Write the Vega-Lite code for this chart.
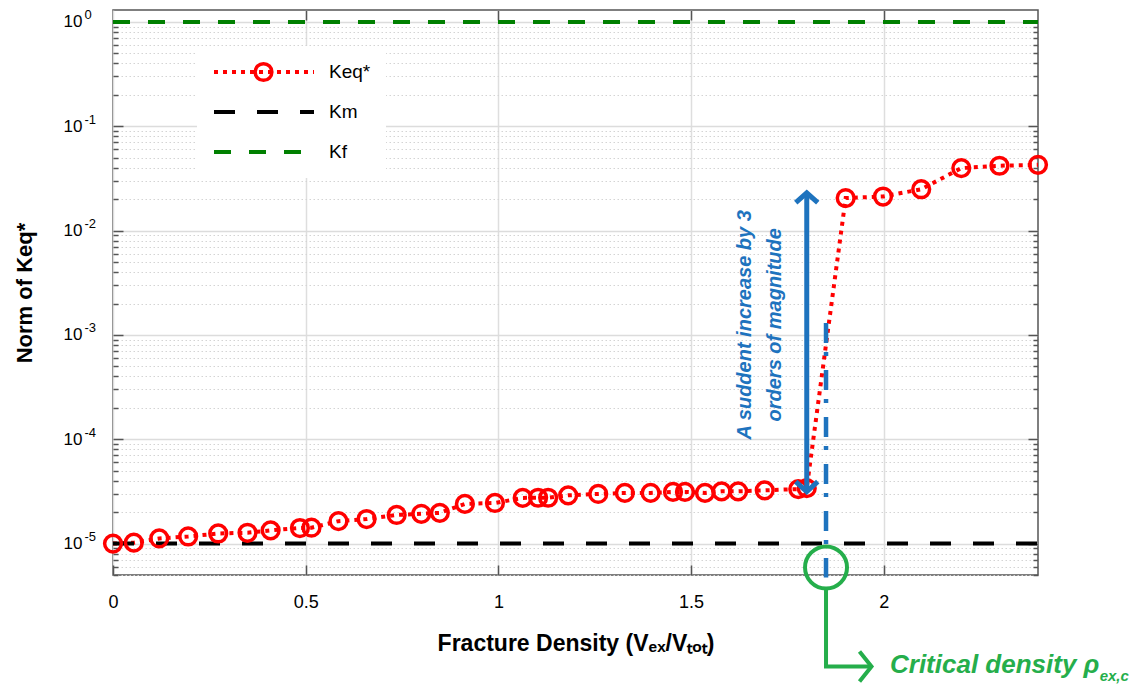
{
  "$schema": "https://vega.github.io/schema/vega-lite/v6.json",
  "width": 925,
  "height": 565,
  "autosize": "none",
  "padding": {"left": 113, "top": 10, "right": 98, "bottom": 109},
  "background": "white",
  "config": {"view": {"stroke": "#555555", "strokeWidth": 1.5}, "font": "Liberation Sans"},
  "datasets": {
    "series": [
      {"series": "Keq*", "x": 0, "y": 1.0e-5},
      {"series": "Keq*", "x": 0.054, "y": 1.02e-5},
      {"series": "Keq*", "x": 0.12, "y": 1.12e-5},
      {"series": "Keq*", "x": 0.195, "y": 1.17e-5},
      {"series": "Keq*", "x": 0.273, "y": 1.25e-5},
      {"series": "Keq*", "x": 0.349, "y": 1.27e-5},
      {"series": "Keq*", "x": 0.409, "y": 1.34e-5},
      {"series": "Keq*", "x": 0.485, "y": 1.41e-5},
      {"series": "Keq*", "x": 0.515, "y": 1.42e-5},
      {"series": "Keq*", "x": 0.585, "y": 1.64e-5},
      {"series": "Keq*", "x": 0.658, "y": 1.72e-5},
      {"series": "Keq*", "x": 0.736, "y": 1.88e-5},
      {"series": "Keq*", "x": 0.8, "y": 1.93e-5},
      {"series": "Keq*", "x": 0.848, "y": 1.97e-5},
      {"series": "Keq*", "x": 0.913, "y": 2.4e-5},
      {"series": "Keq*", "x": 0.991, "y": 2.45e-5},
      {"series": "Keq*", "x": 1.063, "y": 2.74e-5},
      {"series": "Keq*", "x": 1.103, "y": 2.75e-5},
      {"series": "Keq*", "x": 1.129, "y": 2.75e-5},
      {"series": "Keq*", "x": 1.181, "y": 2.9e-5},
      {"series": "Keq*", "x": 1.259, "y": 2.99e-5},
      {"series": "Keq*", "x": 1.328, "y": 3.06e-5},
      {"series": "Keq*", "x": 1.395, "y": 3.06e-5},
      {"series": "Keq*", "x": 1.453, "y": 3.13e-5},
      {"series": "Keq*", "x": 1.484, "y": 3.13e-5},
      {"series": "Keq*", "x": 1.536, "y": 3.06e-5},
      {"series": "Keq*", "x": 1.579, "y": 3.17e-5},
      {"series": "Keq*", "x": 1.622, "y": 3.17e-5},
      {"series": "Keq*", "x": 1.691, "y": 3.24e-5},
      {"series": "Keq*", "x": 1.778, "y": 3.33e-5},
      {"series": "Keq*", "x": 1.8, "y": 3.4e-5},
      {"series": "Keq*", "x": 1.901, "y": 0.0205},
      {"series": "Keq*", "x": 1.998, "y": 0.0212},
      {"series": "Keq*", "x": 2.097, "y": 0.0249},
      {"series": "Keq*", "x": 2.201, "y": 0.0397},
      {"series": "Keq*", "x": 2.3, "y": 0.0418},
      {"series": "Keq*", "x": 2.4, "y": 0.0427},
      {"series": "Km", "x": 0, "y": 1e-5},
      {"series": "Km", "x": 2.4, "y": 1e-5},
      {"series": "Kf", "x": 0, "y": 1},
      {"series": "Kf", "x": 2.4, "y": 1}
    ]
  },
  "data": {"name": "series"},
  "resolve": {"axis": {"x": "independent", "y": "independent"}},
  "encoding": {
    "x": {"field": "x", "type": "quantitative", "scale": {"domain": [0, 2.4], "nice": false, "zero": false}, "axis": null},
    "y": {"field": "y", "type": "quantitative", "scale": {"type": "log", "domain": [5e-6, 1.3], "nice": false}, "axis": null}
  },
  "layer": [
    {
      "mark": {"type": "line", "strokeWidth": 4, "strokeCap": "butt"},
      "encoding": {
        "x": {"field": "x", "type": "quantitative", "scale": {"domain": [0, 2.4], "nice": false, "zero": false},
          "axis": {"orient": "bottom", "values": [0, 0.5, 1, 1.5, 2], "labelExpr": "'' + datum.value", "title": "Fracture Density (Vₑₓ/Vₜₒₜ)",
            "grid": true, "gridColor": "#dedede", "gridWidth": 1.5, "domain": false, "ticks": true, "tickSize": -10, "tickColor": "#555555", "tickWidth": 1.5,
            "labelFont": "Liberation Sans", "labelFontSize": 18, "labelColor": "black", "labelPadding": 28, "labelFlush": false,
            "titleFont": "Liberation Sans", "titleFontSize": 23, "titleFontWeight": "bold", "titleColor": "black", "titlePadding": 21}},
        "y": {"field": "y", "type": "quantitative", "scale": {"type": "log", "domain": [5e-6, 1.3], "nice": false},
          "axis": {"orient": "left",
            "values": [5e-6, 6e-6, 7e-6, 8e-6, 9e-6, 1e-5, 2e-5, 3e-5, 4e-5, 5e-5, 6e-5, 7e-5, 8e-5, 9e-5, 1e-4, 2e-4, 3e-4, 4e-4, 5e-4, 6e-4, 7e-4, 8e-4, 9e-4, 0.001, 0.002, 0.003, 0.004, 0.005, 0.006, 0.007, 0.008, 0.009, 0.01, 0.02, 0.03, 0.04, 0.05, 0.06, 0.07, 0.08, 0.09, 0.1, 0.2, 0.3, 0.4, 0.5, 0.6, 0.7, 0.8, 0.9, 1],
            "labelExpr": "abs(log(datum.value)/LN10 - round(log(datum.value)/LN10)) < 0.001 ? '10' : ''",
            "labelOverlap": false, "labelFlush": false,
            "title": "Norm of Keq*",
            "grid": true,
            "gridColor": {"condition": {"test": "abs(log(datum.value)/LN10 - round(log(datum.value)/LN10)) < 0.001", "value": "#dcdcdc"}, "value": "#d4d4d4"},
            "gridDash": {"condition": {"test": "abs(log(datum.value)/LN10 - round(log(datum.value)/LN10)) < 0.001", "value": []}, "value": [1.5, 2.5]},
            "gridWidth": {"condition": {"test": "abs(log(datum.value)/LN10 - round(log(datum.value)/LN10)) < 0.001", "value": 1.5}, "value": 1},
            "domain": false, "ticks": true,
            "tickSize": {"condition": {"test": "abs(log(datum.value)/LN10 - round(log(datum.value)/LN10)) < 0.001", "value": -10}, "value": -5},
            "tickColor": "#555555", "tickWidth": 1.5,
            "labelFont": "Liberation Sans", "labelFontSize": 17, "labelColor": "black", "labelPadding": 41,
            "titleFont": "Liberation Sans", "titleFontSize": 22, "titleFontWeight": "bold", "titleColor": "black", "titlePadding": 27}},
        "color": {"field": "series", "type": "nominal",
          "scale": {"domain": ["Keq*", "Km", "Kf"], "range": ["#ff0000", "#000000", "#008000"]},
          "legend": {"orient": "none", "legendX": 84, "legendY": 36, "title": null, "symbolType": "stroke", "symbolSize": 10000,
            "symbolStrokeWidth": 4, "clipHeight": 22, "rowPadding": 18, "padding": 15, "fillColor": "white",
            "labelFont": "Liberation Sans", "labelFontSize": 19, "labelColor": "black", "labelOffset": 13}},
        "strokeDash": {"field": "series", "type": "nominal",
          "scale": {"domain": ["Keq*", "Km", "Kf"], "range": [[4, 5], [21, 22], [17, 18]]},
          "legend": {"orient": "none", "legendX": 84, "legendY": 36, "title": null, "symbolType": "stroke", "symbolSize": 10000,
            "symbolStrokeWidth": 4, "clipHeight": 22, "rowPadding": 18, "padding": 15, "fillColor": "white",
            "labelFont": "Liberation Sans", "labelFontSize": 19, "labelColor": "black", "labelOffset": 13}}
      }
    },
    {
      "transform": [{"filter": "datum.series == 'Keq*'"}],
      "mark": {"type": "point", "filled": false, "color": "#ff0000", "strokeWidth": 3.5, "size": 280, "opacity": 1},
      "encoding": {
        "x": {"field": "x", "type": "quantitative", "scale": {"domain": [0, 2.4], "nice": false, "zero": false},
          "axis": {"orient": "top", "values": [0.5, 1, 1.5, 2], "labels": false, "grid": false, "domain": false, "title": null,
            "tickSize": -10, "tickColor": "#555555", "tickWidth": 1.5}},
        "y": {"field": "y", "type": "quantitative", "scale": {"type": "log", "domain": [5e-6, 1.3], "nice": false},
          "axis": {"orient": "right",
            "values": [5e-6, 6e-6, 7e-6, 8e-6, 9e-6, 1e-5, 2e-5, 3e-5, 4e-5, 5e-5, 6e-5, 7e-5, 8e-5, 9e-5, 1e-4, 2e-4, 3e-4, 4e-4, 5e-4, 6e-4, 7e-4, 8e-4, 9e-4, 0.001, 0.002, 0.003, 0.004, 0.005, 0.006, 0.007, 0.008, 0.009, 0.01, 0.02, 0.03, 0.04, 0.05, 0.06, 0.07, 0.08, 0.09, 0.1, 0.2, 0.3, 0.4, 0.5, 0.6, 0.7, 0.8, 0.9, 1],
            "labels": false, "grid": false, "domain": false, "title": null,
            "tickSize": {"condition": {"test": "abs(log(datum.value)/LN10 - round(log(datum.value)/LN10)) < 0.001", "value": -10}, "value": -5},
            "tickColor": "#555555", "tickWidth": 1.5}},
        "shape": {"field": "series", "type": "nominal",
          "scale": {"domain": ["Keq*"], "range": ["circle"]},
          "legend": {"orient": "none", "legendX": 140, "legendY": 51, "title": null, "labelExpr": "''", "padding": 0,
            "clipHeight": 22, "symbolSize": 280, "symbolStrokeWidth": 3.5, "symbolStrokeColor": "#ff0000", "symbolFillColor": "transparent"}}
      }
    },
    {
      "data": {"values": [{"x": 1.8, "y": 0.023, "y2": 3.15e-5}]},
      "mark": {"type": "rule", "color": "#1E73BE", "strokeWidth": 5},
      "encoding": {
        "y": {"field": "y", "type": "quantitative", "scale": {"type": "log", "domain": [5e-6, 1.3], "nice": false},
          "axis": {"orient": "left", "values": [1e-5, 1e-4, 0.001, 0.01, 0.1, 1],
            "labelExpr": "round(log(datum.value)/LN10) == 0 ? '0' : '-' + (-round(log(datum.value)/LN10))",
            "labelOverlap": false, "labelFlush": false, "grid": false, "domain": false, "ticks": false, "tickSize": 0, "title": null,
            "labelFont": "Liberation Sans", "labelFontSize": 13, "labelColor": "black", "labelAlign": "left", "labelPadding": 29, "labelOffset": -7}},
        "y2": {"field": "y2"}
      }
    },
    {
      "data": {"values": [{"x": 1.8, "y": 0.023}]},
      "mark": {"type": "point", "shape": "M-1,0.9L0,0L1,0.9", "filled": false, "color": "#1E73BE", "strokeWidth": 5, "size": 484, "opacity": 1, "strokeJoin": "miter"}
    },
    {
      "data": {"values": [{"x": 1.8, "y": 3.15e-5}]},
      "mark": {"type": "point", "shape": "M-1,-0.9L0,0L1,-0.9", "filled": false, "color": "#1E73BE", "strokeWidth": 5, "size": 484, "opacity": 1, "strokeJoin": "miter"}
    },
    {
      "data": {"values": [{"x": 1.85, "y": 0.0013, "y2": 4.72e-6}]},
      "mark": {"type": "rule", "color": "#1E73BE", "strokeWidth": 4.5, "strokeDash": [20, 9, 4, 14]},
      "encoding": {"y2": {"field": "y2"}}
    },
    {
      "data": {"values": [{"x": 1.639, "y": 0.00125, "label": "A suddent  increase by 3\norders of magnitude"}]},
      "mark": {"type": "text", "angle": 270, "font": "Liberation Sans", "fontStyle": "italic", "fontWeight": "bold", "fontSize": 20, "color": "#1E73BE",
        "align": "center", "baseline": "middle", "lineBreak": "\n", "lineHeight": 30},
      "encoding": {"text": {"field": "label"}}
    },
    {
      "data": {"values": [{"x": 1.85, "y": 5.9e-6}]},
      "mark": {"type": "point", "shape": "circle", "filled": false, "color": "#25AE4B", "strokeWidth": 4, "size": 1764, "opacity": 1}
    },
    {
      "data": {"values": [{"x": 1.85, "y": 3.62e-6, "o": 1}, {"x": 1.85, "y": 6.64e-7, "o": 2}, {"x": 1.965, "y": 6.64e-7, "o": 3}]},
      "mark": {"type": "line", "color": "#25AE4B", "strokeWidth": 4, "strokeJoin": "miter"},
      "encoding": {"order": {"field": "o", "type": "quantitative"}}
    },
    {
      "data": {"values": [{"x": 1.968, "y": 6.64e-7}]},
      "mark": {"type": "point", "shape": "M-0.8,-1L0,0L-0.8,1", "filled": false, "color": "#25AE4B", "strokeWidth": 4, "size": 900, "opacity": 1, "strokeJoin": "miter"}
    },
    {
      "data": {"values": [{"x": 2.016, "y": 5.81e-7, "label": "Critical density ρ"}]},
      "mark": {"type": "text", "font": "Liberation Sans", "fontStyle": "italic", "fontWeight": "bold", "fontSize": 26, "color": "#25AE4B", "align": "left", "baseline": "alphabetic"},
      "encoding": {"text": {"field": "label"}}
    },
    {
      "data": {"values": [{"x": 2.56, "y": 4.87e-7, "label": "ex,c"}]},
      "mark": {"type": "text", "font": "Liberation Sans", "fontStyle": "italic", "fontWeight": "bold", "fontSize": 15, "color": "#25AE4B", "align": "left", "baseline": "alphabetic"},
      "encoding": {"text": {"field": "label"}}
    }
  ]
}
